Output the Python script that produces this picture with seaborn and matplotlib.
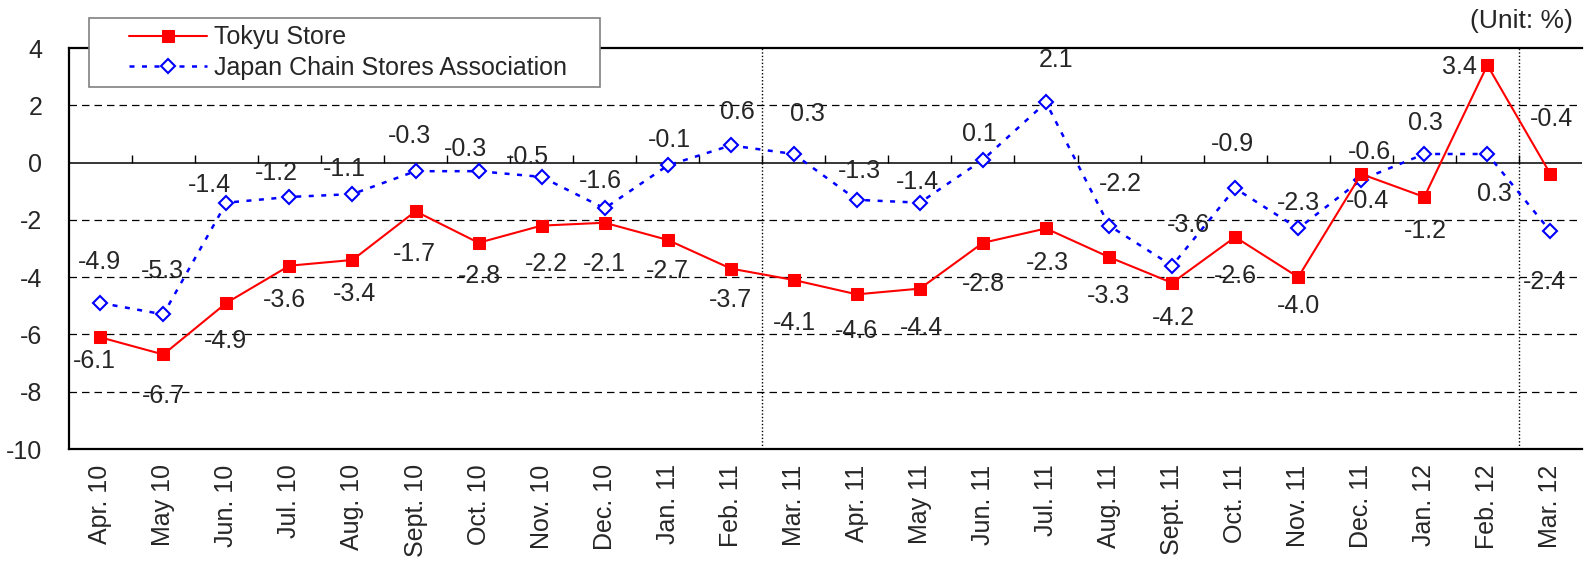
import numpy as np
import pandas as pd
import matplotlib.pyplot as plt
import seaborn as sns
from matplotlib.legend_handler import HandlerLine2D

# datos
months = ['Apr. 10', 'May 10', 'Jun. 10', 'Jul. 10', 'Aug. 10', 'Sept. 10', 'Oct. 10',
          'Nov. 10', 'Dec. 10', 'Jan. 11', 'Feb. 11', 'Mar. 11', 'Apr. 11', 'May 11',
          'Jun. 11', 'Jul. 11', 'Aug. 11', 'Sept. 11', 'Oct. 11', 'Nov. 11', 'Dec. 11',
          'Jan. 12', 'Feb. 12', 'Mar. 12']
tokyu = [-6.1, -6.7, -4.9, -3.6, -3.4, -1.7, -2.8, -2.2, -2.1, -2.7, -3.7, -4.1,
         -4.6, -4.4, -2.8, -2.3, -3.3, -4.2, -2.6, -4.0, -0.4, -1.2, 3.4, -0.4]
jcsa = [-4.9, -5.3, -1.4, -1.2, -1.1, -0.3, -0.3, -0.5, -1.6, -0.1, 0.6, 0.3,
        -1.3, -1.4, 0.1, 2.1, -2.2, -3.6, -0.9, -2.3, -0.6, 0.3, 0.3, -2.4]

# posiciones de etiquetas (pixeles, relativo al punto)
tokyu_off = [(-6, -24), (0, -42), (-1, -38), (-5, -34), (2, -34), (-1, -43), (1, -33),
             (5, -38), (0, -41), (0, -31), (0, -31), (1, -43), (0, -37), (2, -39),
             (0, -41), (1, -35), (-1, -39), (1, -35), (0, -39), (0, -29), (6, -27),
             (1, -34), (-28, -2), (1, 55)]
jcsa_off = [(-1, 41), (-1, 43), (-17, 18), (-13, 24), (-8, 25), (-6, 35), (-13, 22),
            (-14, 20), (-4, 27), (2, 25), (7, 33), (14, 40), (3, 29), (-2, 21),
            (-4, 26), (10, 42), (11, 42), (16, 41), (-3, 44), (0, 25), (8, 28),
            (1, 31), (7, -40), (-6, -51)]

sns.set_style('white')
plt.rcParams['font.family'] = ['Liberation Sans', 'DejaVu Sans']
fs = 18

idx = np.arange(len(months))

fig = plt.figure(figsize=(15.84, 5.65), dpi=100)
ax = fig.add_axes([0.0434, 0.2053, 0.9553, 0.7097])

for y in [2, -2, -4, -6, -8]:
    ax.axhline(y, color='black', lw=0.9, ls=(0, (6, 4)), zorder=1)
ax.axhline(0, color='black', lw=1.1, zorder=1)
ax.vlines(np.arange(0.5, 23), 0, 0.28, color='black', lw=1.0, zorder=1)
for x in [10.5, 22.5]:
    ax.axvline(x, color='black', lw=1.0, ls=(0, (1, 1.5)), zorder=1)

sns.lineplot(x=idx, y=jcsa, ax=ax, color='#0000ff', lw=1.8, ls=(0, (2, 3)),
             marker='D', markersize=7, markerfacecolor='white', markeredgecolor='#0000ff',
             markeredgewidth=1.5, label='Japan Chain Stores Association', zorder=3)
sns.lineplot(x=idx, y=tokyu, ax=ax, color='#ff0000', lw=1.5,
             marker='s', markersize=8, markerfacecolor='#ff0000', markeredgecolor='#ff0000',
             label='Tokyu Store', zorder=4)

for i, v in enumerate(tokyu):
    ax.annotate(f'{v:.1f}', (idx[i], v), xytext=tokyu_off[i], textcoords='offset pixels',
                ha='center', va='center', fontsize=fs, zorder=5)
for i, v in enumerate(jcsa):
    ax.annotate(f'{v:.1f}', (idx[i], v), xytext=jcsa_off[i], textcoords='offset pixels',
                ha='center', va='center', fontsize=fs, zorder=5)

ax.set_xlim(-0.5, 23.5)
ax.set_ylim(-10, 4)
ax.set_yticks([4, 2, 0, -2, -4, -6, -8, -10])
ax.set_yticklabels(['4', '2', '0', '-2', '-4', '-6', '-8', '-10'], fontsize=fs)
ax.set_xticks(idx)
ax.set_xticklabels(months, rotation=90, fontsize=fs)
ax.tick_params(axis='y', length=0, pad=19)
ax.tick_params(axis='x', length=0, pad=11)
for s in ['left', 'bottom', 'top']:
    ax.spines[s].set_color('black')
    ax.spines[s].set_linewidth(1.6)
ax.spines['right'].set_visible(False)

# leyenda con margen a la izquierda como en el original
handles, labels = ax.get_legend_handles_labels()
labels = [l + '\u2003' for l in labels[::-1]]
leg = ax.legend(handles[::-1], labels, loc='upper left', bbox_to_anchor=(0.0136, 1.075),
                fontsize=fs, frameon=True, fancybox=False, framealpha=1, edgecolor='#808080',
                borderpad=0.3, labelspacing=0.25, handlelength=4.4, handletextpad=0.3,
                borderaxespad=0, handler_map={h: HandlerLine2D(xpad=1.3) for h in handles})
leg.get_frame().set_linewidth(1.2)
leg.set_zorder(10)

fig.text(0.993, 0.962, '(Unit: %)', ha='right', va='center', fontsize=19)

plt.savefig('out.png', dpi=100)
plt.close()
